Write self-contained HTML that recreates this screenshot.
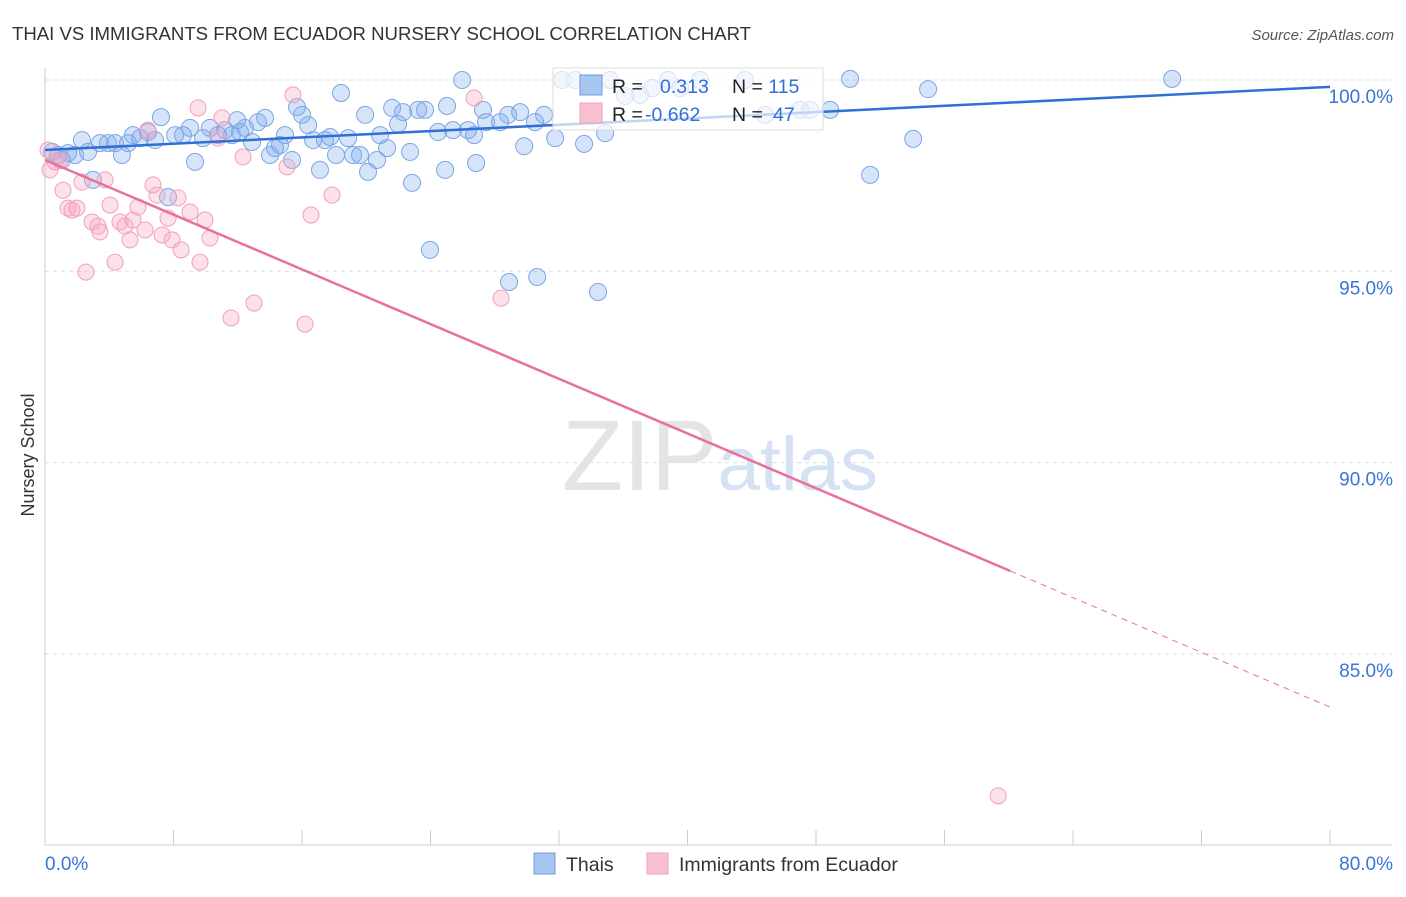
<!DOCTYPE html>
<html><head><meta charset="utf-8"><style>
body{margin:0;background:#fff;font-family:"Liberation Sans",sans-serif;}
svg text{font-family:"Liberation Sans",sans-serif;}
</style></head><body>
<svg id="chart" width="1406" height="892" xmlns="http://www.w3.org/2000/svg">
<text x="12" y="40" font-size="18.6" fill="#333" textLength="739">THAI VS IMMIGRANTS FROM ECUADOR NURSERY SCHOOL CORRELATION CHART</text>
<text x="1394" y="40" font-size="15" fill="#555" text-anchor="end" font-style="italic">Source: ZipAtlas.com</text>
<text x="720" y="490" font-size="100" fill="#e4e4e4" text-anchor="middle" font-family="Liberation Serif">ZIP<tspan fill="#d4e2f4" font-family="Liberation Sans" font-size="76">atlas</tspan></text>
<text x="34" y="455" font-size="18" fill="#333" text-anchor="middle" transform="rotate(-90 34 455)">Nursery School</text>
<g id="grid"></g><g id="pts"></g><g id="lines"></g>
<g>
<rect x="553" y="68" width="270" height="62" fill="#fff" fill-opacity="0.7" stroke="#ddd"/>
<rect x="580" y="75" width="22" height="20" fill="#a9c6f0" stroke="#6a9be0"/>
<rect x="580" y="103" width="22" height="20" fill="#f9c0cf" stroke="#f0a0b8"/>
<text x="612" y="93" font-size="19.5" fill="#222">R = <tspan x="660" fill="#2f6fd6">0.313</tspan><tspan x="732" fill="#222">N = </tspan><tspan fill="#2f6fd6">115</tspan></text>
<text x="612" y="121" font-size="19.5" fill="#222">R = <tspan x="645" fill="#2f6fd6">-0.662</tspan><tspan x="732" fill="#222">N = </tspan><tspan x="773" fill="#2f6fd6">47</tspan></text>
</g>
<g>
<rect x="534" y="853" width="21" height="21" fill="#a9c6f0" stroke="#6a9be0"/>
<text x="566" y="871" font-size="19.5" fill="#333">Thais</text>
<rect x="647" y="853" width="21" height="21" fill="#f9c0cf" stroke="#f0a0b8"/>
<text x="679" y="871" font-size="19.5" fill="#333">Immigrants from Ecuador</text>
</g>
</svg>
<script>
const xTicks=[0,10,20,30,40,50,60,70,80];
const yTicks=[85,90,95,100];
const yTickLabels=["85.0%","90.0%","95.0%","100.0%"];
const xEndLabels=["0.0%","80.0%"];
const thaiX=[.44,.81,1.06,1.43,1.87,2.30,2.68,2.99,3.42,3.92,4.36,4.79,5.17,5.48,5.92,6.41,6.85,7.22,7.66,8.10,8.59,9.03,9.34,9.84,10.27,10.77,11.21,11.64,11.96,12.14,12.45,12.89,13.26,13.70,14.01,14.32,14.63,14.94,15.38,15.69,16.00,16.38,16.69,17.12,17.43,17.75,18.12,18.43,18.87,19.18,19.61,19.93,20.11,20.67,20.86,21.30,21.61,21.98,22.29,22.73,22.85,23.23,23.66,23.97,24.47,24.91,25.03,25.40,25.97,26.34,26.71,26.84,27.27,27.46,28.33,28.89,28.83,29.58,29.83,30.51,30.64,31.07,31.76,32.19,33.0,33.56,34.43,34.87,35.18,36.11,37.05,37.80,38.79,39.54,40.78,43.59,44.83,47.01,47.63,48.88,50.12,51.37,54.05,54.98,70.17];
const thaiY=[98.12,98.04,97.91,98.09,98.04,98.43,98.12,97.39,98.35,98.35,98.35,98.04,98.35,98.56,98.48,98.64,98.43,99.03,96.94,98.56,98.56,98.75,97.86,98.48,98.75,98.56,98.69,98.56,98.95,98.64,98.75,98.38,98.90,99.01,98.04,98.22,98.30,98.56,97.91,99.29,99.09,98.82,98.43,97.65,98.43,98.51,98.04,99.66,98.48,98.04,98.04,99.09,97.60,97.91,98.56,98.22,99.27,98.85,99.16,98.12,97.31,99.22,99.22,95.56,98.64,97.65,99.32,98.69,100,98.69,98.56,97.83,99.22,98.90,98.90,94.72,99.09,99.16,98.27,98.90,94.85,99.09,98.48,100,100,98.33,94.46,98.61,100,99.58,99.61,99.79,100,99.79,100,100,99.09,99.22,99.22,99.22,100.03,97.52,98.46,99.76,100.03];
const ecuX=[.19,.31,.62,.93,1.12,1.43,1.68,1.99,2.30,2.55,2.93,3.30,3.42,3.74,4.05,4.36,4.67,4.98,5.29,5.48,5.79,6.23,6.41,6.72,6.97,7.29,7.66,7.91,8.28,8.47,9.03,9.53,9.65,9.96,10.27,10.77,11.02,11.58,12.33,13.01,15.07,15.44,16.19,16.56,17.87,26.71,28.39,59.34];
const ecuY=[98.17,97.65,97.86,97.91,97.12,96.65,96.60,96.65,97.33,94.98,96.29,96.18,96.03,97.39,96.73,95.24,96.29,96.18,95.82,96.34,96.68,96.08,98.69,97.26,96.99,95.95,96.39,95.82,96.92,95.56,96.55,99.27,95.24,96.34,95.87,98.48,99.01,93.78,97.99,94.17,97.73,99.61,93.62,96.47,96.99,99.53,94.30,81.29];
const thaiTrend=[98.17,99.82];
const ecuTrend=[97.91,83.61];
const ecuSolidEnd=60.1;
const NS="http://www.w3.org/2000/svg";
const X=v=>45+v*(1285/80);
const Y=v=>80+(100-v)*38.26;
function mk(t,a,p){const e=document.createElementNS(NS,t);for(const k in a)e.setAttribute(k,a[k]);p.appendChild(e);return e;}
const grid=document.getElementById('grid'),pts=document.getElementById('pts'),lines=document.getElementById('lines');
yTicks.forEach((t,i)=>{
 const l=mk('line',{x1:45,x2:1392,y1:Y(t),y2:Y(t),stroke:'#ddd','stroke-dasharray':'4,4'},grid);
 
 
 const tx=mk('text',{x:1393,y:Y(t)+23,'font-size':19,fill:'#3a74d6','text-anchor':'end'},grid);
 tx.textContent=yTickLabels[i];
 
 
});
const ax=mk('line',{x1:45,x2:1392,y1:845,y2:845,stroke:'#ccc'},grid);


const ay=mk('line',{x1:45,x2:45,y1:68,y2:845,stroke:'#ccc'},grid);


for(let v=0;v<=80;v+=8){
 const tk=mk('line',{x1:X(v),x2:X(v),y1:830,y2:845,stroke:'#ccc'},grid);
 
 
}
[[0,'start',45],[80,'end',1393]].forEach((d,i)=>{
 const tx=mk('text',{x:d[2],y:870,'font-size':19,fill:'#3a74d6','text-anchor':d[1]},grid);
 tx.textContent=xEndLabels[i];
 
 
});
thaiX.forEach((x,i)=>{
 const c=mk('circle',{cx:X(x),cy:Y(thaiY[i]),r:8.5,fill:'rgba(120,165,235,0.3)',stroke:'#7aa6e6','stroke-width':1},pts);
 
 
});
ecuX.forEach((x,i)=>{
 const c=mk('circle',{cx:X(x),cy:Y(ecuY[i]),r:8,fill:'rgba(250,170,195,0.35)',stroke:'#f0a0b8','stroke-width':1},pts);
 
 
});
const tl=mk('line',{x1:X(0),y1:Y(thaiTrend[0]),x2:X(80),y2:Y(thaiTrend[1]),stroke:'#2f6fd6','stroke-width':2.5},lines);


const ey=x=>ecuTrend[0]+(ecuTrend[1]-ecuTrend[0])*x/80;
const el1=mk('line',{x1:X(0),y1:Y(ey(0)),x2:X(ecuSolidEnd),y2:Y(ey(ecuSolidEnd)),stroke:'#e8709a','stroke-width':2.5},lines);


const el2=mk('line',{x1:X(ecuSolidEnd),y1:Y(ey(ecuSolidEnd)),x2:X(80),y2:Y(ey(80)),stroke:'#e8709a','stroke-width':1,'stroke-dasharray':'6,5'},lines);


</script>
</body></html>
